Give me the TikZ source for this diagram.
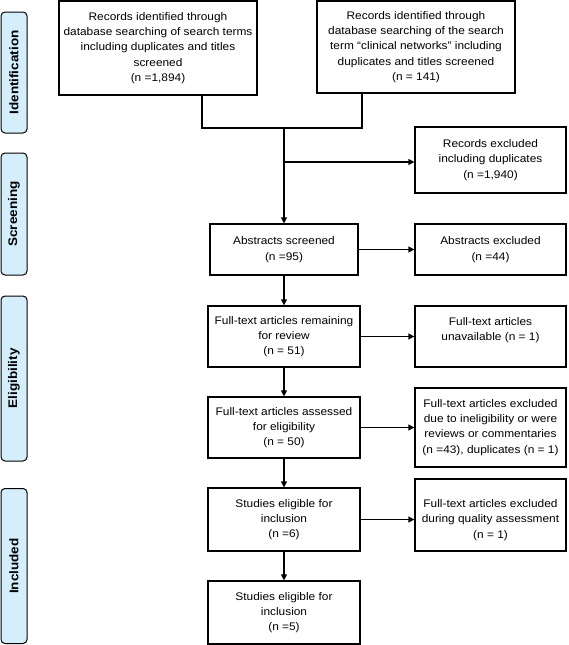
\documentclass[tikz,border=0pt]{standalone}
\usepackage{fontspec}
\setmainfont{Liberation Sans}[FakeStretch=1.08]
\usetikzlibrary{arrows.meta}
\definecolor{sidefill}{HTML}{D5EEFB}
\tikzset{
  box/.style={draw=black, line width=1.3pt, inner sep=0pt, align=center, fill=white,
    font=\fontsize{11}{15.3}\selectfont},
  side/.style={draw=black, line width=1pt, rounded corners=4pt, fill=sidefill, inner sep=0pt,
    minimum width=26pt, font=\fontsize{12.5}{14}\selectfont\bfseries},
  conn/.style={line width=1.3pt},
  arr/.style={line width=1.3pt, -{Triangle[length=6pt,width=6pt]}},
  mainarr/.style={line width=2pt, -{Triangle[length=6pt,width=6pt]}}
}
\begin{document}
\begin{tikzpicture}[x=1pt,y=-1pt]
\useasboundingbox (0,0) rectangle (568,645);
% side labels
\node[side, minimum height=121pt] (sid) at (14,72.5) {};
\node[rotate=90, font=\fontsize{12.5}{14}\selectfont\bfseries] (sidt) at (sid.center) {Identification};
\node[side, minimum height=122pt] (sscr) at (14,214) {};
\node[rotate=90, font=\fontsize{12.5}{14}\selectfont\bfseries] (sscrt) at (sscr.center) {Screening};
\node[side, minimum height=165pt] (sel) at (14,378.5) {};
\node[rotate=90, font=\fontsize{12.5}{14}\selectfont\bfseries] (selt) at (sel.center) {Eligibility};
\node[side, minimum height=155pt] (sinc) at (14,566) {};
\node[rotate=90, font=\fontsize{12.5}{14}\selectfont\bfseries] (sinct) at (sinc.center) {Included};
% boxes
\node[box, minimum width=198pt, minimum height=94pt] (b1) at (158,48)
  {Records identified through\\database searching of search terms\\including duplicates and titles\\screened\\(n =1,894)};
\node[box, minimum width=198pt, minimum height=92pt] (b2) at (416,47)
  {Records identified through\\database searching of the search\\term “clinical networks” including\\duplicates and titles screened\\(n = 141)};
\node[box, minimum width=151pt, minimum height=66pt] (ex1) at (490.5,160)
  {Records excluded\\including duplicates\\(n =1,940)};
\node[box, minimum width=148pt, minimum height=51pt] (abs) at (284,249.5)
  {Abstracts screened\\(n =95)};
\node[box, minimum width=151pt, minimum height=51pt] (absx) at (490.5,249.5)
  {Abstracts excluded\\(n =44)};
\node[box, minimum width=152pt, minimum height=61pt] (ftr) at (284,336.5)
  {Full-text articles remaining\\for review\\(n = 51)};
\node[box, minimum width=151pt, minimum height=61pt] (ftu) at (490.5,336.5) {};
\node[align=center, font=\fontsize{11}{15.3}\selectfont] (ftut) at (490.5,330)
  {Full-text articles\\unavailable (n = 1)};
\node[box, minimum width=152pt, minimum height=61pt] (fta) at (284,427.5)
  {Full-text articles assessed\\for eligibility\\(n = 50)};
\node[box, minimum width=151pt, minimum height=79pt] (ftx) at (490.5,427.5)
  {Full-text articles excluded\\due to ineligibility or were\\reviews or commentaries\\(n =43), duplicates (n = 1)};
\node[box, minimum width=152pt, minimum height=63pt] (se) at (284,519.5)
  {Studies eligible for\\inclusion\\(n =6)};
\node[box, minimum width=151pt, minimum height=72pt] (qx) at (490.5,515) {};
\node[align=center, font=\fontsize{11}{15.3}\selectfont] (qxt) at (490.5,520)
  {Full-text articles excluded\\during quality assessment\\(n = 1)};
\node[box, minimum width=152pt, minimum height=63pt] (fin) at (284,612.5)
  {Studies eligible for\\inclusion\\(n =5)};
% connectors
\coordinate (b1o) at (202,95);
\coordinate (b2o) at (362,93);
\coordinate (j) at (284,128);
\coordinate (k) at (284,162);
\draw[conn] (b1o) |- (j);
\draw[conn] (b2o) |- (j);
\draw[mainarr] (j) -- (abs.north);
\draw[arr] (k) -- (k -| ex1.west);
\draw[arr] (abs.east) -- (absx.west);
\draw[arr] (ftr.east) -- (ftr.east -| ftu.west);
\draw[arr] (fta.east) -- (fta.east -| ftx.west);
\draw[arr] (se.east) -- (se.east -| qx.west);
\draw[arr] (abs.south) -- (ftr.north);
\draw[arr] (ftr.south) -- (fta.north);
\draw[arr] (fta.south) -- (se.north);
\draw[arr] (se.south) -- (fin.north);
\end{tikzpicture}
\end{document}
